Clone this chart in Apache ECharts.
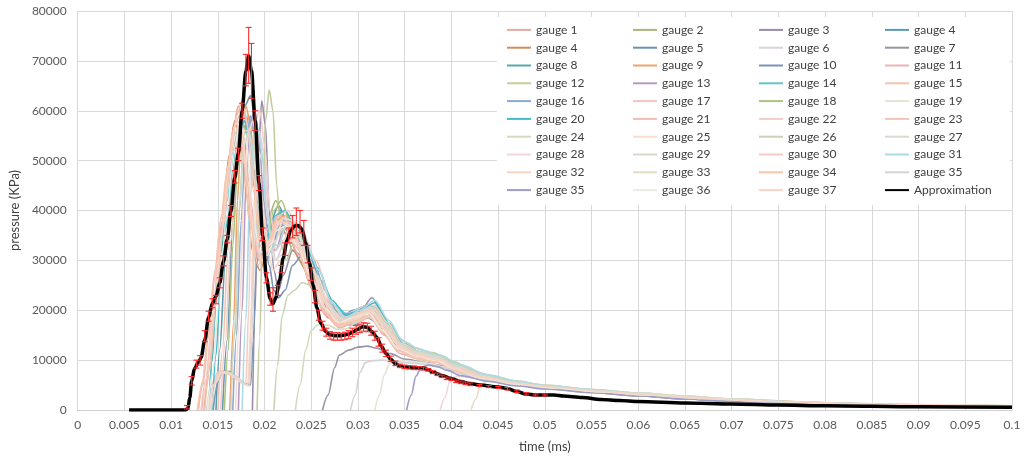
<!DOCTYPE html>
<html>
<head>
<meta charset="utf-8">
<script src="https://cdn.jsdelivr.net/npm/echarts@6/dist/echarts.min.js"></script>
<style>
  html, body { margin: 0; padding: 0; background: #fff; }
  #chart { width: 1024px; height: 458px; }
</style>
</head>
<body>
<div id="chart"></div>
<script>
// x-axis and y-axis ticks
const xTicks = { min: 0, max: 0.1, step: 0.005 };
const yTicks = { min: 0, max: 80000, step: 10000 };

// legend order (row by row, as in the picture); trailing space keeps the duplicated labels apart
const gaugeNames = [
  "gauge 1", "gauge 2", "gauge 3", "gauge 4",
  "gauge 4 ", "gauge 5", "gauge 6", "gauge 7",
  "gauge 8", "gauge 9", "gauge 10", "gauge 11",
  "gauge 12", "gauge 13", "gauge 14", "gauge 15",
  "gauge 16", "gauge 17", "gauge 18", "gauge 19",
  "gauge 20", "gauge 21", "gauge 22", "gauge 23",
  "gauge 24", "gauge 25", "gauge 26", "gauge 27",
  "gauge 28", "gauge 29", "gauge 30", "gauge 31",
  "gauge 32", "gauge 33", "gauge 34", "gauge 35",
  "gauge 35 ", "gauge 36", "gauge 37"
];
const gaugeColors = [
  "#e9a9a2", "#a9b57e", "#9b8cab", "#5c9bab",
  "#d38b63", "#6a93b6", "#dcd0dc", "#9a93a5",
  "#52abab", "#eba26b", "#7b94b6", "#ecb5b5",
  "#c4cc9e", "#b49bc6", "#66c3cb", "#f3c4ab",
  "#8aaad3", "#f3c6c6", "#aac47c", "#e3e3d6",
  "#44bbcb", "#f3bcb3", "#f3cdc5", "#f3c5b5",
  "#d4dbbe", "#f8dccd", "#cbd3b5", "#dadad3",
  "#f3d5dc", "#d4dbcc", "#f3ccc4", "#acdbe3",
  "#f8d4c4", "#e6dcc4", "#f8c5ad", "#d4d4d4",
  "#9c9cc6", "#ebebe3", "#f8d4c4"
];

// gauge readings: [time, pressure]
const gauge1 = [[0.0133,0],[0.0138,5000],[0.0145,17000],[0.0152,32000],[0.016,46000],[0.0167,57000],[0.0172,61000],[0.0178,55000],[0.0185,42000],[0.0192,31000],[0.02,30000],[0.021,36000],[0.022,38500],[0.023,36000],[0.0245,29000],[0.026,21000],[0.0275,17500],[0.029,18500],[0.031,19500],[0.0325,16500],[0.034,12500],[0.036,11000],[0.038,10200],[0.04,8400],[0.043,6500],[0.046,5300],[0.05,4400],[0.055,3600],[0.06,3000],[0.065,2400],[0.07,1900],[0.075,1500],[0.08,1200],[0.09,900],[0.1,750]];
const gauge2 = [[0.0163,0],[0.0168,15000],[0.0173,40000],[0.0178,55000],[0.0183,59000],[0.0188,56000],[0.0193,45000],[0.0198,36000],[0.0205,39000],[0.0212,42000],[0.022,38000],[0.023,32000],[0.0245,28000],[0.026,22000],[0.0275,18000],[0.029,19000],[0.0305,20500],[0.032,18500],[0.0335,14000],[0.035,12000],[0.037,11000],[0.039,10300],[0.041,8400],[0.044,6500],[0.047,5400],[0.05,4600],[0.055,3800],[0.06,3100],[0.065,2500],[0.07,2000],[0.075,1600],[0.08,1250],[0.09,920],[0.1,760]];
const gauge3 = [[0.0187,0],[0.019,20000],[0.0193,50000],[0.0197,62000],[0.0201,57000],[0.0205,40000],[0.021,28000],[0.0215,24000],[0.022,27000],[0.023,32000],[0.024,31000],[0.0255,25000],[0.027,19500],[0.0285,17500],[0.03,19000],[0.0315,22500],[0.033,17500],[0.0345,12800],[0.036,11200],[0.038,10500],[0.04,8800],[0.043,6700],[0.046,5400],[0.05,4500],[0.055,3600],[0.06,2900],[0.065,2300],[0.07,1800],[0.08,1150],[0.09,850],[0.1,680]];
const gauge4 = [[0.0148,0],[0.0152,12000],[0.0158,30000],[0.0165,45000],[0.0172,55000],[0.0179,61000],[0.0185,63000],[0.019,58000],[0.0195,45000],[0.02,36000],[0.0207,38000],[0.0215,41000],[0.0225,37000],[0.0235,34000],[0.025,30000],[0.0265,22000],[0.028,18500],[0.0295,20000],[0.031,21000],[0.0325,18000],[0.034,13800],[0.036,11800],[0.038,10500],[0.04,8600],[0.043,6600],[0.046,5300],[0.05,4400],[0.055,3600],[0.06,2900],[0.065,2300],[0.07,1800],[0.08,1150],[0.09,870],[0.1,720]];
const gauge4b = [[0.0135,0],[0.014,8000],[0.0147,22000],[0.0155,38000],[0.0162,51000],[0.0168,58000],[0.0174,55000],[0.018,44000],[0.0187,32000],[0.0195,28000],[0.0205,33000],[0.0215,37000],[0.0225,35000],[0.0238,30000],[0.0252,24000],[0.0268,18500],[0.0285,17000],[0.03,18500],[0.0315,19000],[0.033,15000],[0.035,11500],[0.037,10500],[0.039,9500],[0.041,7600],[0.044,6000],[0.048,4800],[0.052,4100],[0.057,3300],[0.062,2700],[0.068,2000],[0.075,1500],[0.085,1000],[0.1,720]];
const gauge5 = [[0.0155,0],[0.016,14000],[0.0166,38000],[0.0172,52000],[0.0178,58000],[0.0183,57000],[0.0189,48000],[0.0195,36000],[0.0202,30000],[0.021,34000],[0.022,37000],[0.023,35000],[0.0245,31000],[0.026,26000],[0.0275,20000],[0.029,18000],[0.0305,19500],[0.032,20000],[0.0335,15500],[0.035,12300],[0.037,11200],[0.039,10400],[0.041,8500],[0.044,6500],[0.047,5300],[0.05,4600],[0.055,3800],[0.06,3100],[0.065,2400],[0.07,1900],[0.08,1200],[0.09,880],[0.1,720]];
const gauge6 = [[0.0138,0],[0.0143,5000],[0.015,7600],[0.016,7300],[0.017,6200],[0.0178,5200],[0.0183,5000],[0.0186,20000],[0.019,45000],[0.0194,56000],[0.0199,52000],[0.0205,38000],[0.0212,30000],[0.022,33000],[0.023,35000],[0.0245,30000],[0.026,24000],[0.0275,19000],[0.029,19500],[0.031,21000],[0.0325,18000],[0.034,13500],[0.036,11800],[0.038,11000],[0.04,9200],[0.043,7000],[0.047,5500],[0.05,4800],[0.055,4000],[0.06,3200],[0.065,2600],[0.07,2000],[0.08,1250],[0.09,920],[0.1,760]];
const gauge7 = [[0.0262,0],[0.0268,3000],[0.0275,8500],[0.028,11000],[0.029,12000],[0.03,12600],[0.031,12800],[0.032,12400],[0.0335,11300],[0.035,10200],[0.037,9600],[0.039,8900],[0.041,7400],[0.044,6000],[0.047,5000],[0.05,4300],[0.055,3500],[0.06,2800],[0.065,2200],[0.07,1700],[0.08,1100],[0.09,820],[0.1,680]];
const gauge8 = [[0.014,0],[0.0144,10000],[0.0148,24000],[0.0152,31000],[0.0158,36000],[0.0165,44000],[0.0172,53000],[0.0178,57000],[0.0183,55000],[0.0188,46000],[0.0194,36000],[0.02,31000],[0.0208,37000],[0.0217,40000],[0.0227,36000],[0.024,32000],[0.0255,27000],[0.027,20000],[0.0285,18000],[0.03,19500],[0.0318,20500],[0.0333,16000],[0.035,12300],[0.037,10900],[0.039,10000],[0.041,8200],[0.044,6300],[0.048,5000],[0.052,4200],[0.057,3400],[0.062,2700],[0.068,2000],[0.075,1500],[0.085,1000],[0.1,720]];
const gauge9 = [[0.0163,0],[0.0167,18000],[0.0171,42000],[0.0175,56000],[0.018,61000],[0.0185,57000],[0.019,45000],[0.0196,34000],[0.0203,33000],[0.0212,38000],[0.0222,39000],[0.0232,35000],[0.0247,29000],[0.0262,21000],[0.0278,17500],[0.0293,18500],[0.031,20000],[0.0325,17000],[0.034,13200],[0.036,11300],[0.038,10600],[0.04,8800],[0.043,6700],[0.046,5500],[0.05,4600],[0.055,3800],[0.06,3100],[0.065,2500],[0.07,1950],[0.08,1250],[0.09,920],[0.1,760]];
const gauge10 = [[0.0145,0],[0.015,5500],[0.0155,7800],[0.0163,7700],[0.017,6600],[0.0178,5400],[0.0185,5000],[0.0188,14000],[0.0191,28000],[0.0195,34000],[0.02,33500],[0.0205,29000],[0.021,24000],[0.0215,22500],[0.0222,24000],[0.023,29000],[0.024,31000],[0.025,28000],[0.0265,22000],[0.028,17500],[0.0295,17000],[0.031,18500],[0.0325,17000],[0.034,13200],[0.036,11300],[0.038,10400],[0.04,8600],[0.043,6600],[0.046,5400],[0.05,4500],[0.055,3700],[0.06,3000],[0.065,2400],[0.07,1850],[0.08,1200],[0.09,880],[0.1,720]];
const gauge11 = [[0.0129,0],[0.0134,5000],[0.014,15000],[0.0147,27000],[0.0155,38000],[0.0163,48000],[0.017,55000],[0.0176,54000],[0.0182,45000],[0.019,34000],[0.0198,30000],[0.0207,33000],[0.0215,36000],[0.0225,35000],[0.0237,31000],[0.025,25000],[0.0265,19000],[0.028,16500],[0.0297,17500],[0.0313,18500],[0.0328,15000],[0.0345,11300],[0.0365,10200],[0.0385,9600],[0.0405,7900],[0.043,6300],[0.047,5100],[0.051,4300],[0.056,3500],[0.061,2800],[0.067,2100],[0.074,1600],[0.085,1050],[0.1,760]];
const gauge12 = [[0.0192,0],[0.0195,15000],[0.0198,40000],[0.0201,58000],[0.0205,64200],[0.0209,60000],[0.0213,45000],[0.0218,33000],[0.0223,30000],[0.023,33000],[0.024,34500],[0.025,31000],[0.0265,24000],[0.028,19000],[0.0295,19000],[0.031,21000],[0.0325,19500],[0.034,14800],[0.036,12500],[0.038,11500],[0.04,9800],[0.043,7400],[0.046,6000],[0.05,5000],[0.055,4100],[0.06,3400],[0.065,2800],[0.07,2200],[0.08,1450],[0.09,1050],[0.1,850]];
const gauge13 = [[0.0172,0],[0.0176,20000],[0.018,45000],[0.0184,57000],[0.0189,60000],[0.0194,55000],[0.0199,42000],[0.0205,33000],[0.0212,32000],[0.022,36000],[0.023,37000],[0.024,33000],[0.0255,27000],[0.027,20500],[0.0285,18000],[0.03,19500],[0.0315,20500],[0.033,17000],[0.0345,12800],[0.0365,11200],[0.0385,10400],[0.0405,8400],[0.043,6600],[0.047,5300],[0.05,4600],[0.055,3800],[0.06,3100],[0.065,2500],[0.07,1900],[0.08,1250],[0.09,880],[0.1,720]];
const gauge14 = [[0.0141,0],[0.0145,14000],[0.0149,27000],[0.0154,34000],[0.016,42000],[0.0167,52000],[0.0173,58000],[0.0178,60000],[0.0184,56000],[0.019,45000],[0.0196,36000],[0.0203,34000],[0.0212,38000],[0.0222,38000],[0.0233,34000],[0.0245,31000],[0.026,26000],[0.0275,21000],[0.029,19000],[0.0305,20000],[0.032,21000],[0.0335,16500],[0.035,12800],[0.037,11400],[0.039,10600],[0.041,8600],[0.044,6600],[0.047,5400],[0.05,4700],[0.055,3800],[0.06,3100],[0.065,2500],[0.07,1900],[0.08,1250],[0.09,880],[0.1,720]];
const gauge15 = [[0.0136,0],[0.0141,8000],[0.0148,22000],[0.0156,37000],[0.0164,51000],[0.017,59000],[0.0176,62000],[0.0182,57000],[0.0188,44000],[0.0195,33000],[0.0203,32000],[0.0213,37000],[0.0223,39000],[0.0235,36000],[0.025,29000],[0.0265,22500],[0.028,18500],[0.0297,19000],[0.0315,20000],[0.033,16500],[0.0345,12800],[0.0365,11200],[0.0385,10400],[0.0405,8500],[0.043,6700],[0.047,5400],[0.051,4600],[0.056,3800],[0.061,3100],[0.067,2400],[0.074,1800],[0.085,1150],[0.1,820]];
const gauge16 = [[0.0166,0],[0.017,15000],[0.0175,38000],[0.018,54000],[0.0185,59000],[0.019,55000],[0.0195,43000],[0.02,34000],[0.0207,32000],[0.0216,37000],[0.0226,38000],[0.0237,34000],[0.025,31000],[0.0265,24000],[0.028,19000],[0.0295,19500],[0.0312,21000],[0.0327,18000],[0.0342,13800],[0.036,11700],[0.038,10700],[0.04,9000],[0.043,6900],[0.046,5600],[0.05,4700],[0.055,3900],[0.06,3200],[0.065,2600],[0.07,2000],[0.08,1300],[0.09,930],[0.1,770]];
const gauge17 = [[0.0132,0],[0.0137,6000],[0.0144,18000],[0.0152,33000],[0.016,46000],[0.0167,55000],[0.0173,57000],[0.018,48000],[0.0187,37000],[0.0195,30000],[0.0205,33000],[0.0215,38000],[0.0225,37000],[0.0237,32000],[0.0252,25500],[0.0268,19500],[0.0283,17000],[0.03,18000],[0.0317,19000],[0.0332,15500],[0.0348,11800],[0.0368,10400],[0.0388,9700],[0.0408,7900],[0.044,6100],[0.048,4900],[0.052,4200],[0.057,3400],[0.062,2800],[0.068,2100],[0.075,1550],[0.085,1050],[0.1,770]];
const gauge18 = [[0.0157,0],[0.0161,12000],[0.0166,33000],[0.0171,49000],[0.0177,57000],[0.0183,55000],[0.0189,45000],[0.0195,35000],[0.0202,35000],[0.021,40000],[0.0218,42000],[0.0227,38000],[0.0238,34000],[0.0252,28000],[0.0267,21000],[0.0282,18000],[0.0297,19000],[0.0313,20500],[0.0328,17500],[0.0343,13300],[0.0362,11600],[0.0382,10700],[0.0402,8900],[0.043,7000],[0.046,5700],[0.05,4800],[0.055,4000],[0.06,3300],[0.065,2700],[0.07,2100],[0.08,1350],[0.09,980],[0.1,800]];
const gauge19 = [[0.0318,0],[0.0323,3000],[0.0328,7000],[0.0334,9300],[0.034,9800],[0.035,9900],[0.036,9700],[0.037,9500],[0.038,9200],[0.039,8700],[0.041,7400],[0.044,6000],[0.047,5000],[0.05,4400],[0.055,3700],[0.06,3000],[0.065,2400],[0.07,1850],[0.08,1200],[0.09,880],[0.1,720]];
const gauge20 = [[0.0144,0],[0.0148,11000],[0.0153,26000],[0.0159,38000],[0.0166,48000],[0.0172,55000],[0.0178,58000],[0.0184,54000],[0.019,44000],[0.0196,37000],[0.0203,35000],[0.0212,39000],[0.0222,40000],[0.0232,37000],[0.0243,33000],[0.0257,28500],[0.0272,22000],[0.0287,19000],[0.0302,20000],[0.0318,21500],[0.0333,17500],[0.0348,13300],[0.0367,11600],[0.0387,10800],[0.0407,8800],[0.044,6600],[0.047,5400],[0.05,4700],[0.055,3800],[0.06,3100],[0.065,2500],[0.07,1900],[0.08,1250],[0.09,880],[0.1,720]];
const gauge21 = [[0.0129,0],[0.0134,6000],[0.014,16000],[0.0147,28000],[0.0154,39000],[0.0161,49000],[0.0168,57000],[0.0173,59000],[0.0179,52000],[0.0186,38000],[0.0194,30000],[0.0204,34000],[0.0214,39000],[0.0224,38000],[0.0236,33000],[0.025,26000],[0.0265,19500],[0.028,17000],[0.0297,18000],[0.0313,19000],[0.0328,15500],[0.0345,11800],[0.0365,10300],[0.0385,9600],[0.0405,7900],[0.043,6300],[0.047,5100],[0.051,4300],[0.056,3500],[0.061,2900],[0.067,2200],[0.074,1650],[0.085,1100],[0.1,780]];
const gauge22 = [[0.014,0],[0.0145,5000],[0.0152,7800],[0.016,7600],[0.0168,6800],[0.0175,5700],[0.018,5200],[0.0183,20000],[0.0186,45000],[0.019,58000],[0.0195,60000],[0.02,53000],[0.0206,40000],[0.0212,32000],[0.022,34000],[0.023,38000],[0.024,36000],[0.0255,30000],[0.027,22000],[0.0285,18500],[0.03,19500],[0.0317,21000],[0.0332,17500],[0.0347,13300],[0.0367,11600],[0.0387,10700],[0.0407,8800],[0.044,6700],[0.047,5500],[0.05,4700],[0.055,3900],[0.06,3200],[0.065,2600],[0.07,2000],[0.08,1300],[0.09,930],[0.1,770]];
const gauge23 = [[0.015,0],[0.0155,12000],[0.0161,32000],[0.0167,48000],[0.0173,57000],[0.0179,59000],[0.0185,54000],[0.0191,42000],[0.0198,33000],[0.0206,34000],[0.0215,39000],[0.0225,40000],[0.0235,36000],[0.0248,30000],[0.0262,23000],[0.0277,18500],[0.0292,18500],[0.0308,20000],[0.0323,18000],[0.0338,13800],[0.0356,11900],[0.0376,10900],[0.0396,9500],[0.042,7500],[0.045,6000],[0.049,4900],[0.053,4200],[0.058,3500],[0.063,2900],[0.069,2200],[0.076,1650],[0.086,1100],[0.1,800]];
const gauge24 = [[0.0233,0],[0.0238,5000],[0.0244,12000],[0.025,16000],[0.0258,17200],[0.0268,17000],[0.0278,16200],[0.0288,16300],[0.0298,17500],[0.031,18800],[0.0322,17500],[0.0336,14000],[0.035,12200],[0.037,11400],[0.039,10700],[0.041,9000],[0.044,7000],[0.047,5800],[0.05,4900],[0.055,4100],[0.06,3400],[0.065,2800],[0.07,2200],[0.08,1400],[0.09,1000],[0.1,820]];
const gauge25 = [[0.0169,0],[0.0173,18000],[0.0178,44000],[0.0183,56000],[0.0188,58000],[0.0193,52000],[0.0198,40000],[0.0204,33000],[0.0212,34000],[0.022,38500],[0.023,38000],[0.0242,33000],[0.0256,27000],[0.027,20500],[0.0285,18000],[0.03,19000],[0.0316,20500],[0.0331,17000],[0.0346,12800],[0.0366,11300],[0.0386,10500],[0.0406,8700],[0.044,6600],[0.047,5500],[0.05,4700],[0.055,3900],[0.06,3200],[0.065,2600],[0.07,2000],[0.08,1300],[0.09,930],[0.1,770]];
const gauge26 = [[0.021,0],[0.0214,9000],[0.0219,19000],[0.0225,23000],[0.0232,24000],[0.024,25500],[0.025,25000],[0.0262,22000],[0.0275,18500],[0.029,17500],[0.0305,19500],[0.0318,20500],[0.0332,17000],[0.0347,13000],[0.0367,11500],[0.0387,10700],[0.0407,8900],[0.044,6800],[0.047,5600],[0.05,4800],[0.055,4000],[0.06,3300],[0.065,2700],[0.07,2100],[0.08,1350],[0.09,980],[0.1,800]];
const gauge27 = [[0.0143,0],[0.0148,5500],[0.0155,7700],[0.0163,7500],[0.0171,6500],[0.0178,5300],[0.0184,4800],[0.0187,16000],[0.019,40000],[0.0193,52000],[0.0198,50000],[0.0204,38000],[0.021,30000],[0.0218,31000],[0.0228,35000],[0.0238,33500],[0.0252,28000],[0.0267,21000],[0.0282,17500],[0.0297,18500],[0.0313,20000],[0.0328,17000],[0.0343,13000],[0.0363,11300],[0.0383,10500],[0.0403,8700],[0.043,6800],[0.046,5600],[0.05,4700],[0.055,3900],[0.06,3200],[0.065,2600],[0.07,2000],[0.08,1300],[0.09,930],[0.1,770]];
const gauge28 = [[0.0388,0],[0.0393,2500],[0.0398,5500],[0.0405,6800],[0.042,6600],[0.044,6000],[0.047,5200],[0.05,4600],[0.055,3800],[0.06,3100],[0.065,2500],[0.07,1950],[0.08,1300],[0.09,930],[0.1,770]];
const gauge29 = [[0.0164,0],[0.0168,16000],[0.0173,41000],[0.0178,53000],[0.0183,56000],[0.0188,52000],[0.0194,41000],[0.02,33000],[0.0208,32000],[0.0217,36000],[0.0227,37000],[0.0238,33000],[0.0252,28000],[0.0267,21500],[0.0282,18000],[0.0297,19000],[0.0313,20500],[0.0328,17500],[0.0343,13300],[0.0363,11600],[0.0383,10800],[0.0403,9000],[0.043,7100],[0.046,5800],[0.05,4900],[0.055,4100],[0.06,3400],[0.065,2800],[0.07,2200],[0.08,1400],[0.09,1000],[0.1,820]];
const gauge30 = [[0.0153,0],[0.0158,14000],[0.0164,34000],[0.017,49000],[0.0176,56000],[0.0182,56000],[0.0188,47000],[0.0194,36000],[0.0201,32000],[0.021,36000],[0.022,38500],[0.023,36000],[0.0243,31000],[0.0257,24500],[0.0272,19000],[0.0287,18000],[0.0303,19500],[0.0318,20000],[0.0333,16000],[0.0348,12300],[0.0368,10900],[0.0388,10100],[0.0408,8300],[0.044,6400],[0.047,5200],[0.05,4500],[0.055,3700],[0.06,3000],[0.065,2400],[0.07,1850],[0.08,1200],[0.09,880],[0.1,720]];
const gauge31 = [[0.0176,0],[0.018,18000],[0.0184,42000],[0.0188,54000],[0.0192,57000],[0.0197,52000],[0.0202,40000],[0.0208,33000],[0.0215,33000],[0.0223,37000],[0.0233,37500],[0.0245,33000],[0.0258,28000],[0.0272,21500],[0.0287,18500],[0.0302,20000],[0.0318,22000],[0.0333,18000],[0.0348,13800],[0.0368,12000],[0.0388,11000],[0.0408,9100],[0.044,7000],[0.047,5800],[0.05,4900],[0.055,4100],[0.06,3300],[0.065,2700],[0.07,2100],[0.08,1350],[0.09,980],[0.1,800]];
const gauge32 = [[0.0141,0],[0.0146,5000],[0.0153,7500],[0.0161,7400],[0.0169,6400],[0.0176,5300],[0.0182,4900],[0.0185,15000],[0.0188,36000],[0.0191,44000],[0.0196,42000],[0.0202,33000],[0.0209,28000],[0.0217,30000],[0.0227,34000],[0.0237,33000],[0.025,28500],[0.0265,21500],[0.028,17500],[0.0295,18000],[0.0311,19500],[0.0326,16500],[0.0341,12800],[0.0361,11200],[0.0381,10300],[0.0401,8500],[0.043,6600],[0.046,5400],[0.05,4600],[0.055,3800],[0.06,3100],[0.065,2500],[0.07,1900],[0.08,1250],[0.09,900],[0.1,740]];
const gauge33 = [[0.0421,0],[0.0426,2200],[0.0431,4800],[0.0438,5800],[0.045,5800],[0.047,5300],[0.05,4700],[0.055,3900],[0.06,3300],[0.065,2700],[0.07,2100],[0.075,1650],[0.08,1300],[0.09,950],[0.1,800]];
const gauge34 = [[0.0128,0],[0.0133,5000],[0.0139,14000],[0.0146,26000],[0.0153,38000],[0.016,48000],[0.0166,56000],[0.0171,58000],[0.0177,52000],[0.0184,38000],[0.0193,29000],[0.0203,33000],[0.0213,38000],[0.0223,37500],[0.0235,32500],[0.0249,25500],[0.0264,19500],[0.0279,16800],[0.0296,17800],[0.0312,19000],[0.0327,15500],[0.0344,11800],[0.0364,10300],[0.0384,9600],[0.0404,7900],[0.043,6300],[0.047,5100],[0.051,4300],[0.056,3500],[0.061,2900],[0.067,2200],[0.074,1650],[0.085,1100],[0.1,780]];
const gauge35 = [[0.0292,0],[0.0297,3000],[0.0302,7500],[0.0308,9500],[0.0316,9900],[0.0326,10000],[0.0336,9900],[0.035,9500],[0.037,9200],[0.039,8600],[0.041,7300],[0.044,5900],[0.047,4900],[0.05,4300],[0.055,3600],[0.06,2900],[0.065,2300],[0.07,1800],[0.08,1150],[0.09,850],[0.1,680]];
const gauge35b = [[0.0352,0],[0.0357,3000],[0.0362,6800],[0.0368,8600],[0.0376,9000],[0.0385,8700],[0.0395,8000],[0.041,6900],[0.044,5700],[0.047,4800],[0.05,4200],[0.055,3500],[0.06,2800],[0.065,2200],[0.07,1700],[0.08,1100],[0.09,800],[0.1,660]];
const gauge36 = [[0.0139,0],[0.0144,7000],[0.0151,21000],[0.0159,38000],[0.0167,52000],[0.0174,58000],[0.018,54000],[0.0187,42000],[0.0194,32000],[0.0203,31000],[0.0213,36000],[0.0223,37000],[0.0235,33000],[0.0249,27000],[0.0264,20500],[0.0279,17500],[0.0295,18500],[0.0311,19500],[0.0326,16000],[0.0343,12300],[0.0363,10800],[0.0383,10000],[0.0403,8300],[0.043,6500],[0.047,5200],[0.051,4400],[0.056,3600],[0.061,3000],[0.067,2300],[0.074,1700],[0.085,1100],[0.1,780]];
const gauge37 = [[0.0134,0],[0.0139,7000],[0.0146,20000],[0.0154,35000],[0.0162,49000],[0.0169,57500],[0.0175,56000],[0.0182,46000],[0.0189,35000],[0.0197,30000],[0.0207,34000],[0.0217,38000],[0.0227,37000],[0.0239,32000],[0.0253,25500],[0.0268,19500],[0.0283,17500],[0.0299,18500],[0.0315,19800],[0.033,16000],[0.0346,12300],[0.0366,10800],[0.0386,10000],[0.0406,8200],[0.043,6600],[0.047,5300],[0.051,4500],[0.056,3700],[0.061,3000],[0.067,2300],[0.074,1700],[0.085,1150],[0.1,800]];

const gaugeData = [
  gauge1, gauge2, gauge3, gauge4, gauge4b, gauge5, gauge6, gauge7,
  gauge8, gauge9, gauge10, gauge11, gauge12, gauge13, gauge14, gauge15,
  gauge16, gauge17, gauge18, gauge19, gauge20, gauge21, gauge22, gauge23,
  gauge24, gauge25, gauge26, gauge27, gauge28, gauge29, gauge30, gauge31,
  gauge32, gauge33, gauge34, gauge35, gauge35b, gauge36, gauge37
];

// approximation curve
const approximation = [[0.0055,0],[0.0115,0],[0.0118,300],[0.012,2500],[0.0122,5800],[0.0125,8300],[0.0129,9500],[0.0132,10500],[0.0136,14000],[0.014,18500],[0.0144,21300],[0.0148,22800],[0.0152,25500],[0.0156,29800],[0.016,34200],[0.0164,39800],[0.0168,46500],[0.0172,51500],[0.0176,60000],[0.018,68000],[0.0183,71000],[0.0186,68000],[0.019,58000],[0.0194,45500],[0.0198,35000],[0.0202,26500],[0.0206,22300],[0.0209,21300],[0.0212,22500],[0.0216,26000],[0.022,30500],[0.0224,34000],[0.0228,36000],[0.0232,36900],[0.0236,37000],[0.024,36300],[0.0244,33500],[0.0248,29500],[0.0252,25000],[0.0256,20500],[0.026,17500],[0.0265,15800],[0.027,15100],[0.0275,14900],[0.028,14900],[0.0285,15000],[0.029,15200],[0.0295,15700],[0.03,16200],[0.0305,16700],[0.031,16600],[0.0315,15700],[0.032,14600],[0.0325,12800],[0.033,11300],[0.0335,10200],[0.034,9300],[0.0345,8800],[0.035,8600],[0.036,8500],[0.037,8400],[0.0375,8100],[0.038,7600],[0.039,6900],[0.04,6300],[0.041,5700],[0.042,5300],[0.043,5000],[0.045,4600],[0.046,4300],[0.047,3700],[0.048,3200],[0.049,3000],[0.05,3000],[0.051,3000],[0.052,2800],[0.054,2500],[0.056,2100],[0.058,1900],[0.06,1700],[0.065,1400],[0.07,1200],[0.075,1000],[0.08,850],[0.09,650],[0.1,550]];

// error bars on the approximation
const errX =    [0.0117,0.0122,0.0127,0.0131,0.0136,0.014,0.0144,0.0148,0.0152,0.0156,0.016,0.0164,0.0168,0.0172,0.0176,0.018,0.0183,0.0186,0.019,0.0194,0.0198,0.0202,0.0206,0.0209,0.0214,0.0218,0.0222,0.0226,0.023,0.0234,0.0238,0.0242,0.0246,0.025,0.0254,0.0258,0.0262,0.0266,0.027,0.0274,0.0278,0.0282,0.0286,0.029,0.0294,0.0298,0.0302,0.0306,0.031,0.0314,0.0318,0.0322,0.0326,0.033,0.0335,0.034,0.0345,0.035,0.0355,0.036,0.0365,0.037,0.0375,0.038,0.0385,0.039,0.0395,0.04,0.0405,0.041,0.0415,0.042,0.043,0.044,0.045,0.046,0.047,0.048,0.049,0.05];
const errLow =  [200,5000,8400,9000,13700,17800,20500,21300,24500,28900,33500,38800,45500,50000,58500,65000,65500,62500,56000,44000,34000,25500,21000,19800,23000,27500,31000,33500,34500,35000,35500,33000,29500,26000,21500,18000,16000,14800,14200,14000,14000,14000,14100,14300,14700,15200,15500,15800,15700,15000,14000,12800,11600,10700,9700,8900,8500,8300,8200,8100,8100,8000,7800,7300,6900,6500,6100,5900,5500,5300,5100,4900,4700,4500,4300,4000,3500,3000,2800,2800];
const errHigh = [900,6700,10000,10900,15900,19800,22300,23000,26500,30900,35000,41000,48000,52500,61500,71300,76700,73500,60000,47000,36500,27500,23500,24500,25000,29000,33500,36500,39000,40500,40000,38000,33000,28500,24000,20000,17800,16400,15700,15500,15500,15400,15600,15900,16400,16900,17200,17500,17400,16800,15800,14500,13200,12000,10800,9800,9200,9000,8900,8800,8700,8600,8300,7900,7400,7000,6600,6400,6000,5800,5600,5400,5100,4900,4700,4500,4000,3500,3200,3200];

const FONT = "Lato, 'Open Sans', sans-serif";

const chart = echarts.init(document.getElementById("chart"), null, { renderer: "canvas" });

const gaugeSeries = gaugeNames.map((name, i) => ({
  name,
  type: "line",
  data: gaugeData[i],
  symbol: "none",
  smooth: 0.3,
  smoothMonotone: "x",
  lineStyle: { width: 1.6, color: gaugeColors[i] },
  itemStyle: { color: gaugeColors[i] },
  z: 2,
}));

const option = {
  animation: false,
  backgroundColor: "#fff",
  textStyle: { fontFamily: FONT },
  grid: { left: 72, right: 12, top: 11, bottom: 47 },
  legend: {
    data: [...gaugeNames, "Approximation"],
    left: 497,
    top: 17,
    width: 540,
    orient: "horizontal",
    backgroundColor: "#fff",
    padding: [4, 0, 6, 9],
    itemWidth: 24,
    itemHeight: 10,
    itemGap: 0,
    itemStyle: { opacity: 0 },
    textStyle: {
      fontFamily: FONT,
      fontSize: 12,
      color: "#404040",
      width: 96,
      lineHeight: 17.8,
      overflow: "truncate",
    },
  },
  xAxis: {
    type: "value",
    min: xTicks.min,
    max: xTicks.max,
    interval: xTicks.step,
    name: "time (ms)",
    nameLocation: "middle",
    nameGap: 30,
    nameTextStyle: { fontFamily: FONT, fontSize: 13, color: "#404040" },
    axisLine: { show: true, lineStyle: { color: "#d0d0d0" } },
    axisTick: { show: false },
    axisLabel: {
      fontFamily: FONT,
      fontSize: 12,
      color: "#595959",
      margin: 9,
      formatter: (v) => String(+v.toFixed(3)),
    },
    splitLine: { show: true, lineStyle: { color: "#d9d9d9", width: 1 } },
  },
  yAxis: {
    type: "value",
    min: yTicks.min,
    max: yTicks.max,
    interval: yTicks.step,
    name: "pressure (KPa)",
    nameLocation: "middle",
    nameRotate: 90,
    nameGap: 50,
    nameTextStyle: { fontFamily: FONT, fontSize: 13, color: "#404040" },
    axisLine: { show: false },
    axisTick: { show: false },
    axisLabel: {
      fontFamily: FONT,
      fontSize: 12,
      color: "#595959",
      margin: 11,
      formatter: (v) => String(v),
    },
    splitLine: { show: true, lineStyle: { color: "#d9d9d9", width: 1 } },
  },
  series: [
    ...gaugeSeries,
    {
      name: "Approximation",
      type: "line",
      data: approximation,
      symbol: "none",
      smooth: 0.3,
      smoothMonotone: "x",
      lineStyle: { width: 3.5, color: "#000" },
      itemStyle: { color: "#000" },
      z: 3,
    },
    {
      name: "error",
      type: "custom",
      data: errX.map((x, i) => [x, errLow[i], errHigh[i]]),
      encode: { x: 0, y: [1, 2] },
      z: 4,
      renderItem: (params, api) => {
        const x = api.value(0);
        const top = api.coord([x, api.value(2)]);
        const bottom = api.coord([x, api.value(1)]);
        const cap = 3;
        const style = { stroke: "#ff2a2a", lineWidth: 1.1, fill: null };
        return {
          type: "group",
          children: [
            { type: "line", shape: { x1: top[0], y1: top[1], x2: bottom[0], y2: bottom[1] }, style },
            { type: "line", shape: { x1: top[0] - cap, y1: top[1], x2: top[0] + cap, y2: top[1] }, style },
            { type: "line", shape: { x1: bottom[0] - cap, y1: bottom[1], x2: bottom[0] + cap, y2: bottom[1] }, style },
          ],
        };
      },
    },
  ],
};

chart.setOption(option);
</script>
</body>
</html>
